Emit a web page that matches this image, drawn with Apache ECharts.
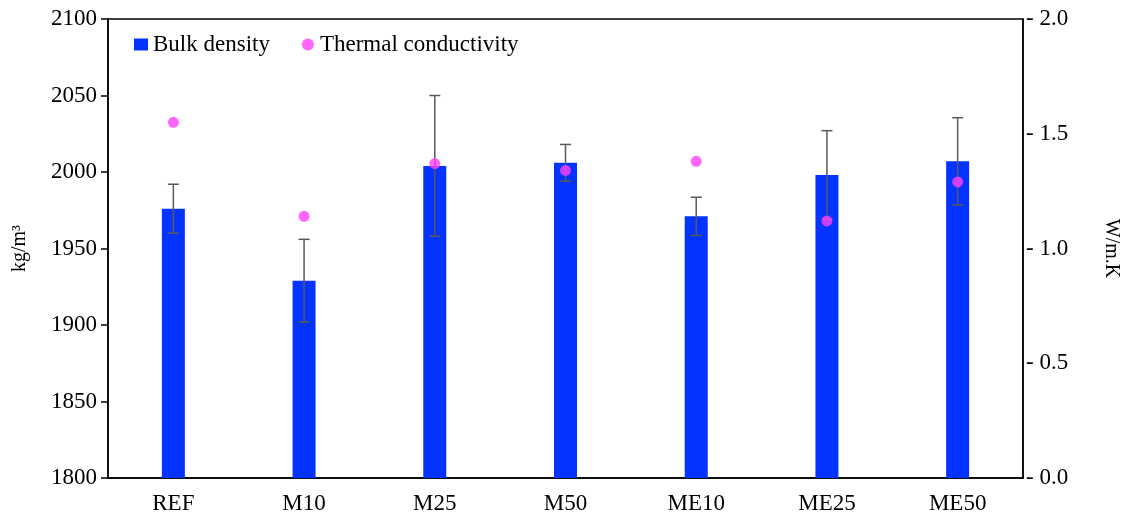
<!DOCTYPE html>
<html>
<head>
<meta charset="utf-8">
<script src="https://cdn.jsdelivr.net/npm/echarts@6/dist/echarts.min.js"></script>
<style>
  html, body { margin: 0; padding: 0; background: #fff; }
  #chart { width: 1129px; height: 521px; }
</style>
</head>
<body>
<div id="chart"></div>
<script>
const categories = ['REF', 'M10', 'M25', 'M50', 'ME10', 'ME25', 'ME50'];
const bulkDensity = [1976, 1929, 2004, 2006, 1971, 1998, 2007];
const densityErr = [16, 27, 46, 12, 12.5, 29, 28.5];
const thermalCond = [1.55, 1.14, 1.37, 1.34, 1.38, 1.12, 1.29];

const serif = 'Liberation Serif';

const chart = echarts.init(document.getElementById('chart'));

chart.setOption({
    animation: false,
    textStyle: { fontFamily: serif, color: '#000' },
    grid: {
        left: 108,
        right: 106,
        top: 19,
        bottom: 43,
        show: true,
        borderColor: '#000',
        borderWidth: 1.5
    },
    legend: {
        left: 129,
        top: 28,
        itemWidth: 14,
        itemHeight: 12,
        itemGap: 32,
        textStyle: { fontFamily: serif, fontSize: 23, color: '#000' },
        data: [
            { name: 'Bulk density', icon: 'rect' },
            { name: 'Thermal conductivity', icon: 'circle' }
        ]
    },
    xAxis: {
        type: 'category',
        data: categories,
        axisLine: { lineStyle: { color: '#000', width: 1.5 } },
        axisTick: { show: false },
        axisLabel: { fontFamily: serif, fontSize: 23, color: '#000', margin: 14 }
    },
    yAxis: [
        {
            type: 'value',
            min: 1800,
            max: 2100,
            interval: 50,
            name: 'kg/m³',
            nameLocation: 'middle',
            nameGap: 78,
            nameTextStyle: { fontFamily: serif, fontSize: 20, color: '#000' },
            axisLine: { show: true, lineStyle: { color: '#000', width: 1.5 } },
            axisTick: { show: true, length: 7, lineStyle: { color: '#000', width: 1.5 } },
            axisLabel: {
                fontFamily: serif, fontSize: 23, color: '#000', margin: 11,
                formatter: v => String(v)
            },
            splitLine: { show: false }
        },
        {
            type: 'value',
            min: 0,
            max: 2,
            interval: 0.5,
            position: 'right',
            name: 'W/m.K',
            nameLocation: 'middle',
            nameRotate: -90,
            nameGap: 78,
            nameTextStyle: { fontFamily: serif, fontSize: 20, color: '#000' },
            axisLine: { show: true, lineStyle: { color: '#000', width: 1.5 } },
            axisTick: { show: false },
            axisLabel: {
                fontFamily: serif, fontSize: 23, color: '#000', margin: 3,
                formatter: v => '- ' + v.toFixed(1)
            },
            splitLine: { show: false }
        }
    ],
    series: [
        {
            name: 'Bulk density',
            type: 'bar',
            data: bulkDensity,
            barWidth: 23,
            itemStyle: { color: '#0433ff' },
            z: 2
        },
        {
            name: 'densityErr',
            type: 'custom',
            data: bulkDensity.map((v, i) => [i, v - densityErr[i], v + densityErr[i]]),
            renderItem: function (params, api) {
                const lo = api.coord([api.value(0), api.value(1)]);
                const hi = api.coord([api.value(0), api.value(2)]);
                const half = 5.5;
                const style = { stroke: '#595959', lineWidth: 1.5 };
                return {
                    type: 'group',
                    children: [
                        { type: 'line', shape: { x1: hi[0], y1: hi[1], x2: lo[0], y2: lo[1] }, style },
                        { type: 'line', shape: { x1: hi[0] - half, y1: hi[1], x2: hi[0] + half, y2: hi[1] }, style },
                        { type: 'line', shape: { x1: lo[0] - half, y1: lo[1], x2: lo[0] + half, y2: lo[1] }, style }
                    ]
                };
            },
            encode: { x: 0, y: [1, 2] },
            z: 3,
            silent: true
        },
        {
            name: 'Thermal conductivity',
            type: 'scatter',
            yAxisIndex: 1,
            data: thermalCond,
            symbolSize: 11,
            itemStyle: { color: '#ff40ff' },
            z: 4
        }
    ]
});
</script>
</body>
</html>
